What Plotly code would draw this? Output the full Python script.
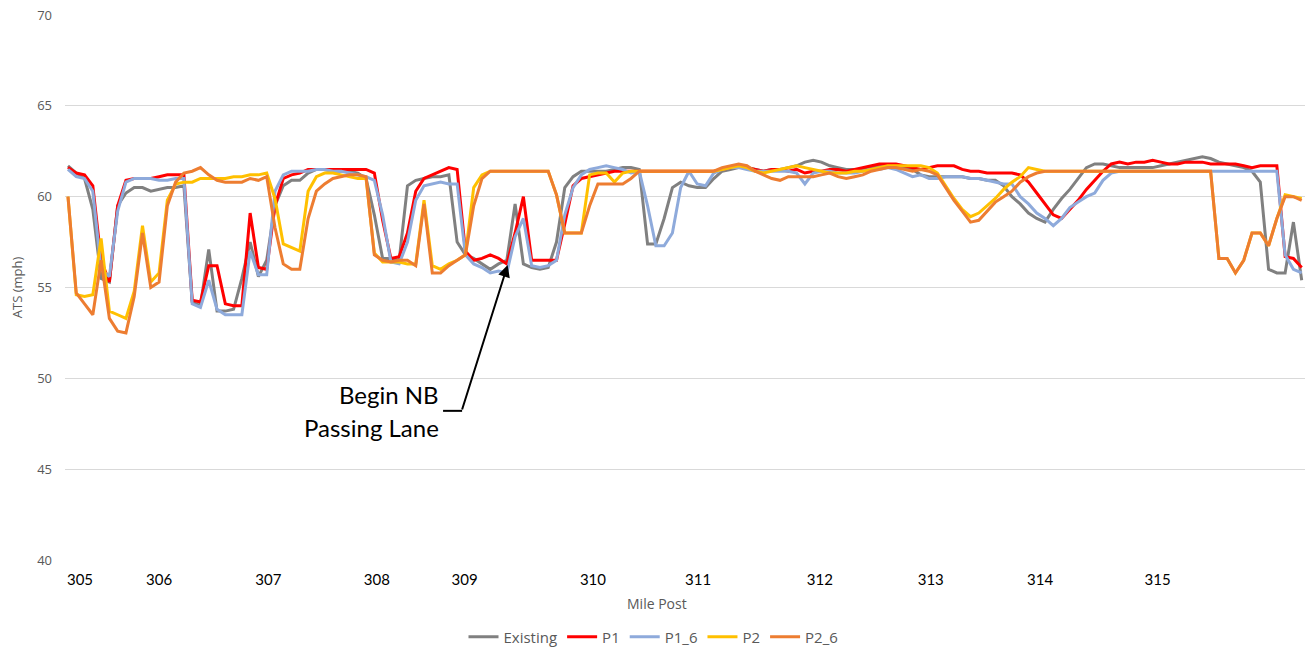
import plotly.graph_objects as go

# ---------------- data ----------------
point_index = list(range(150))

existing = [61.7, 61.3, 61.0, 59.3, 55.5, 55.3, 59.5, 60.2, 60.5, 60.5,
            60.3, 60.4, 60.5, 60.5, 60.6, 54.2, 54.0, 57.1, 53.7, 53.7,
            53.8, 55.5, 57.5, 55.6, 56.5, 59.5, 60.6, 60.9, 60.9, 61.3,
            61.5, 61.5, 61.4, 61.4, 61.4, 61.3, 61.0, 59.0, 56.6, 56.6,
            56.5, 60.6, 60.9, 61.0, 61.1, 61.1, 61.2, 57.5, 56.8, 56.6,
            56.3, 56.0, 56.3, 56.5, 59.6, 56.3, 56.1, 56.0, 56.1, 57.5,
            60.5, 61.1, 61.4, 61.4, 61.4, 61.4, 61.5, 61.6, 61.6, 61.5,
            57.4, 57.4, 58.8, 60.5, 60.8, 60.6, 60.5, 60.5, 61.0, 61.4,
            61.5, 61.6, 61.6, 61.5, 61.4, 61.5, 61.5, 61.6, 61.7, 61.9,
            62.0, 61.9, 61.7, 61.6, 61.5, 61.5, 61.5, 61.6, 61.7, 61.7,
            61.7, 61.6, 61.5, 61.2, 61.1, 61.1, 61.1, 61.1, 61.1, 61.0,
            61.0, 60.9, 60.9, 60.6, 60.0, 59.6, 59.1, 58.8, 58.6, 59.3,
            59.9, 60.4, 61.0, 61.6, 61.8, 61.8, 61.7, 61.6, 61.6, 61.6,
            61.6, 61.6, 61.7, 61.8, 61.9, 62.0, 62.1, 62.2, 62.1, 61.9,
            61.8, 61.7, 61.6, 61.4, 60.8, 56.0, 55.8, 55.8, 58.6, 55.4]

p1 = [61.6, 61.3, 61.2, 60.6, 56.5, 55.3, 59.5, 60.9, 61.0, 61.0,
      61.0, 61.1, 61.2, 61.2, 61.2, 54.3, 54.2, 56.2, 56.2, 54.1,
      54.0, 54.0, 59.1, 56.1, 56.0, 59.5, 61.0, 61.2, 61.3, 61.5,
      61.5, 61.5, 61.5, 61.5, 61.5, 61.5, 61.5, 61.3, 58.7, 56.6,
      56.7, 58.0, 60.3, 61.0, 61.2, 61.4, 61.6, 61.5, 57.0, 56.5,
      56.6, 56.8, 56.6, 56.3, 58.0, 60.0, 56.5, 56.5, 56.5, 56.5,
      58.5, 60.6, 61.0, 61.1, 61.2, 61.3, 61.4, 61.4, 61.4, 61.4,
      61.4, 61.4, 61.4, 61.4, 61.4, 61.4, 61.4, 61.4, 61.4, 61.5,
      61.6, 61.7, 61.6, 61.5, 61.4, 61.5, 61.5, 61.4, 61.5, 61.3,
      61.4, 61.4, 61.5, 61.5, 61.4, 61.5, 61.6, 61.7, 61.8, 61.8,
      61.8, 61.7, 61.6, 61.5, 61.6, 61.7, 61.7, 61.7, 61.5, 61.4,
      61.4, 61.3, 61.3, 61.3, 61.3, 61.2, 60.8, 60.2, 59.6, 59.0,
      58.8, 59.3, 59.8, 60.4, 60.9, 61.4, 61.8, 61.9, 61.8, 61.9,
      61.9, 62.0, 61.9, 61.8, 61.8, 61.9, 61.9, 61.9, 61.8, 61.8,
      61.8, 61.8, 61.7, 61.6, 61.7, 61.7, 61.7, 56.7, 56.6, 56.1]

p1_6 = [61.5, 61.1, 61.0, 60.3, 56.0, 55.6, 59.2, 60.8, 61.0, 61.0,
        61.0, 60.9, 60.9, 61.0, 61.0, 54.1, 53.9, 55.4, 53.8, 53.5,
        53.5, 53.5, 57.0, 55.7, 55.7, 60.3, 61.2, 61.4, 61.4, 61.4,
        61.5, 61.5, 61.4, 61.4, 61.3, 61.2, 61.1, 60.9, 59.0, 56.4,
        56.3, 57.5, 59.8, 60.6, 60.7, 60.8, 60.7, 60.7, 56.8, 56.3,
        56.1, 55.8, 55.9, 55.8, 57.8, 58.8, 56.2, 56.1, 56.2, 56.5,
        59.0, 60.5, 61.2, 61.5, 61.6, 61.7, 61.6, 61.5, 61.3, 61.4,
        59.5, 57.3, 57.3, 58.0, 60.5, 61.4, 60.7, 60.6, 61.3, 61.5,
        61.6, 61.6, 61.5, 61.4, 61.4, 61.4, 61.4, 61.4, 61.3, 60.7,
        61.3, 61.4, 61.4, 61.3, 61.3, 61.3, 61.4, 61.5, 61.5, 61.6,
        61.5, 61.3, 61.1, 61.2, 61.0, 61.0, 61.1, 61.1, 61.1, 61.0,
        61.0, 60.9, 60.8, 60.7, 60.7, 60.0, 59.6, 59.1, 58.8, 58.4,
        58.8, 59.4, 59.7, 60.0, 60.2, 60.9, 61.3, 61.4, 61.4, 61.4,
        61.4, 61.4, 61.4, 61.4, 61.4, 61.4, 61.4, 61.4, 61.4, 61.4,
        61.4, 61.4, 61.4, 61.4, 61.4, 61.4, 61.4, 56.8, 56.0, 55.8]

p2 = [60.0, 54.6, 54.5, 54.6, 57.7, 53.7, 53.5, 53.3, 54.8, 58.4,
      55.3, 55.8, 59.8, 60.7, 60.8, 60.8, 61.0, 61.0, 61.0, 61.0,
      61.1, 61.1, 61.2, 61.2, 61.3, 59.9, 57.4, 57.2, 57.0, 60.3,
      61.1, 61.3, 61.3, 61.2, 61.1, 61.0, 61.0, 56.9, 56.4, 56.4,
      56.4, 56.3, 56.3, 59.8, 56.2, 56.0, 56.3, 56.5, 56.8, 60.5,
      61.2, 61.4, 61.4, 61.4, 61.4, 61.4, 61.4, 61.4, 61.4, 60.1,
      58.0, 58.0, 58.0, 61.2, 61.3, 61.3, 60.8, 61.3, 61.4, 61.4,
      61.4, 61.4, 61.4, 61.4, 61.4, 61.4, 61.4, 61.4, 61.4, 61.5,
      61.6, 61.7, 61.6, 61.4, 61.3, 61.4, 61.5, 61.6, 61.7, 61.6,
      61.5, 61.4, 61.3, 61.3, 61.3, 61.4, 61.4, 61.5, 61.6, 61.7,
      61.7, 61.7, 61.7, 61.7, 61.6, 61.3, 60.6, 59.9, 59.3, 58.9,
      59.1, 59.5, 59.9, 60.4, 60.8, 61.1, 61.6, 61.5, 61.4, 61.4,
      61.4, 61.4, 61.4, 61.4, 61.4, 61.4, 61.4, 61.4, 61.4, 61.4,
      61.4, 61.4, 61.4, 61.4, 61.4, 61.4, 61.4, 61.4, 61.4, 56.6,
      56.6, 55.8, 56.5, 58.0, 58.0, 57.3, 58.8, 60.1, 60.0, 59.9]

p2_6 = [60.0, 54.7, 54.1, 53.5, 56.5, 53.3, 52.6, 52.5, 54.5, 58.0,
        55.0, 55.3, 59.5, 60.8, 61.3, 61.4, 61.6, 61.2, 60.9, 60.8,
        60.8, 60.8, 61.0, 60.9, 61.1, 58.3, 56.3, 56.0, 56.0, 58.8,
        60.3, 60.7, 61.0, 61.1, 61.2, 61.2, 61.1, 56.8, 56.5, 56.4,
        56.5, 56.5, 56.2, 59.6, 55.8, 55.8, 56.2, 56.5, 56.8, 59.5,
        61.0, 61.4, 61.4, 61.4, 61.4, 61.4, 61.4, 61.4, 61.4, 60.1,
        58.0, 58.0, 58.0, 59.5, 60.7, 60.7, 60.7, 60.7, 61.0, 61.4,
        61.4, 61.4, 61.4, 61.4, 61.4, 61.4, 61.4, 61.4, 61.4, 61.6,
        61.7, 61.8, 61.7, 61.4, 61.2, 61.0, 60.9, 61.1, 61.1, 61.1,
        61.1, 61.2, 61.3, 61.1, 61.0, 61.1, 61.2, 61.4, 61.5, 61.6,
        61.6, 61.5, 61.4, 61.5, 61.4, 61.2, 60.5, 59.8, 59.2, 58.6,
        58.7, 59.2, 59.7, 60.0, 60.3, 60.8, 61.1, 61.3, 61.4, 61.4,
        61.4, 61.4, 61.4, 61.4, 61.4, 61.4, 61.4, 61.4, 61.4, 61.4,
        61.4, 61.4, 61.4, 61.4, 61.4, 61.4, 61.4, 61.4, 61.4, 56.6,
        56.6, 55.8, 56.5, 58.0, 58.0, 57.3, 58.8, 60.0, 60.0, 59.8]

mile_labels = ["305", "306", "307", "308", "309", "310",
               "311", "312", "313", "314", "315"]
mile_label_index = [1.45, 11.0, 24.2, 37.3, 47.9, 63.4, 76.1, 90.8, 104.2, 117.4, 131.6]

series_names = ["Existing", "P1", "P1_6", "P2", "P2_6"]
series_values = [existing, p1, p1_6, p2, p2_6]
series_colors = ["#808080", "#ff0000", "#8eaadb", "#ffc000", "#ed7d31"]

# ---------------- figure ----------------
fig = go.Figure()
for name, vals, col in zip(series_names, series_values, series_colors):
    fig.add_trace(go.Scatter(x=point_index, y=vals, mode="lines", name=name,
                             line=dict(color=col, width=3)))

fig.update_layout(
    width=1307, height=649,
    margin=dict(l=65, r=2, t=15, b=89),
    plot_bgcolor="white", paper_bgcolor="white",
    font=dict(family="Open Sans", color="#595959"),
    showlegend=True,
    legend=dict(orientation="h", xref="container", yref="container",
                x=0.5, xanchor="center", y=(649 - 637) / 649, yanchor="middle",
                font=dict(size=15, color="#595959"), itemwidth=30),
)

fig.update_xaxes(
    range=[-0.36, 149.4], automargin=False,
    tickmode="array", tickvals=mile_label_index, ticktext=mile_labels,
    tickfont=dict(family="Lato", size=15, color="#000000"),
    ticklabelstandoff=9,
    showgrid=False, zeroline=False, showline=False, ticks="",
)
fig.update_yaxes(
    range=[40, 70], dtick=5, tick0=40, automargin=False,
    showgrid=True, gridcolor="#d9d9d9", gridwidth=1,
    zeroline=False, showline=False, ticks="",
    tickfont=dict(size=13, color="#595959"),
    ticklabelstandoff=12,
    title=dict(text="ATS (mph)", font=dict(size=13, color="#595959"), standoff=11),
)

# x-axis title (centred on the figure as in the original)
fig.add_annotation(x=(657 - 65) / 1240, y=(560 - 603) / 545, xref="paper", yref="paper",
                   text="Mile Post", showarrow=False, xanchor="center", yanchor="middle",
                   font=dict(size=14, color="#595959"))

# annotation: elbow arrow + text
fig.add_annotation(x=53.1, y=56.24, xref="x", yref="y", text="",
                   showarrow=True, ax=-46, ay=146, axref="pixel", ayref="pixel",
                   arrowhead=2, arrowsize=1.2, arrowwidth=2, arrowcolor="#000000",
                   standoff=0, startstandoff=0)
fig.add_shape(type="line", x0=45.3, x1=47.6, y0=48.21, y1=48.21, xref="x", yref="y",
              line=dict(color="#000000", width=2))
fig.add_annotation(x=45.1, y=70 - (395 - 15) / 18.17, xref="x", yref="y",
                   text="Begin NB", showarrow=False, xanchor="right", yanchor="middle",
                   font=dict(family="Lato", size=24, color="#000000"))
fig.add_annotation(x=45.1, y=70 - (428 - 15) / 18.17, xref="x", yref="y",
                   text="Passing Lane", showarrow=False, xanchor="right", yanchor="middle",
                   font=dict(family="Lato", size=24, color="#000000"))

fig.write_html("out.html", config={"displayModeBar": False},
               post_script="document.body.style.margin='0';")
